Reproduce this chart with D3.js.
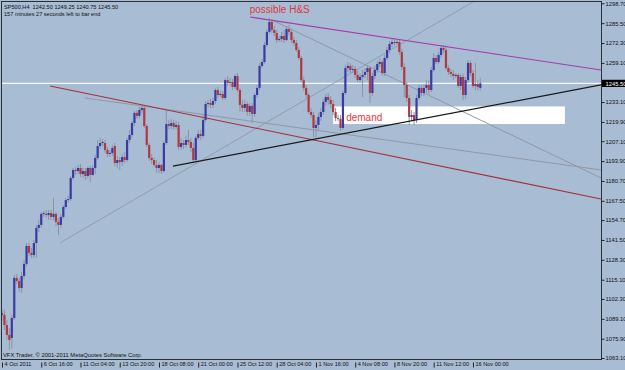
<!DOCTYPE html>
<html><head><meta charset="utf-8">
<script src="https://cdn.jsdelivr.net/npm/d3@7"></script>
<style>html,body{margin:0;padding:0;background:#a8bcd4;} svg{display:block;}</style>
</head><body>
<svg id="c" width="625" height="370"></svg>
<script>
// ---- OHLC data (SP500, H4), one entry per bar ----
const open = [
1093.0,1091.7,1085.0,1078.4,1076.4,1089.7,1116.3,1114.3,1109.6,1117.6,
1125.6,1137.5,1132.9,1131.5,1139.5,1149.5,1151.5,1158.8,1158.8,1158.1,
1159.4,1156.8,1158.8,1153.5,1151.5,1156.8,1163.4,1168.0,1168.7,1182.7,
1188.0,1187.3,1189.3,1185.3,1187.3,1184.0,1189.3,1184.7,1189.3,1196.0,
1203.9,1205.9,1205.9,1201.3,1198.6,1199.3,1203.9,1192.6,1194.6,1193.3,
1196.6,1194.6,1207.9,1211.2,1219.2,1225.9,1223.9,1227.8,1229.2,1217.2,
1204.6,1196.0,1194.6,1191.3,1189.3,1191.3,1187.3,1205.9,1218.5,1217.2,
1219.2,1216.6,1217.9,1203.3,1205.9,1204.6,1207.9,1206.6,1202.6,1194.6,
1209.3,1211.9,1210.6,1221.2,1231.8,1232.5,1231.2,1233.8,1241.1,1237.8,
1238.5,1235.8,1247.7,1245.8,1246.4,1243.1,1250.4,1241.1,1231.2,1229.2,
1231.8,1226.5,1230.5,1225.2,1237.8,1242.5,1257.1,1259.7,1271.0,1279.7,
1286.3,1281.0,1279.0,1274.3,1275.0,1277.0,1274.3,1281.6,1279.7,1274.3,
1272.3,1267.7,1262.4,1247.7,1242.5,1237.8,1226.5,1224.5,1215.9,1217.9,
1223.2,1226.5,1233.2,1236.5,1234.5,1231.8,1226.5,1222.5,1221.9,1215.9,
1239.1,1255.7,1257.1,1254.4,1255.1,1251.1,1247.7,1249.8,1251.1,1253.1,
1255.7,1239.1,1250.4,1254.4,1258.4,1259.7,1252.4,1262.4,1267.7,1271.7,
1273.0,1272.3,1273.0,1266.4,1256.4,1244.4,1235.8,1223.2,1224.5,1221.2,
1235.8,1242.5,1239.1,1242.5,1244.4,1241.1,1254.4,1262.4,1259.7,1264.4,
1269.0,1267.7,1255.7,1253.1,1251.8,1250.4,1251.1,1243.8,1249.8,1237.8,
1247.7,1259.1,1252.4,1243.8,1245.1,1242.50];
const high = [
1096.0,1095.0,1088.4,1083.0,1091.7,1118.3,1118.9,1116.3,1120.3,1128.2,
1139.5,1139.5,1136.2,1141.5,1151.5,1154.8,1160.1,1160.8,1161.4,1161.4,
1161.4,1169.4,1160.1,1156.1,1158.8,1164.7,1169.4,1170.7,1184.0,1189.3,
1190.0,1191.3,1192.0,1189.3,1189.3,1190.6,1190.6,1191.3,1198.0,1207.9,
1209.3,1208.6,1207.9,1203.3,1201.3,1204.6,1205.9,1197.3,1196.6,1198.6,
1200.0,1209.3,1214.6,1220.5,1227.2,1227.8,1229.8,1231.2,1230.5,1218.5,
1205.9,1198.6,1196.6,1194.6,1193.3,1192.0,1207.3,1227.8,1221.2,1221.9,
1221.2,1220.5,1219.9,1209.3,1207.9,1210.6,1214.6,1209.3,1205.9,1210.6,
1214.6,1214.6,1223.9,1233.8,1234.5,1235.2,1235.8,1242.5,1243.1,1240.5,
1240.5,1249.1,1250.4,1249.1,1248.4,1251.8,1252.4,1242.5,1234.5,1234.5,
1233.2,1232.5,1232.5,1239.1,1244.4,1259.1,1261.7,1273.0,1281.6,1289.0,
1288.3,1283.6,1281.0,1277.0,1279.7,1281.0,1283.6,1284.3,1281.6,1276.3,
1274.3,1269.7,1263.7,1249.8,1244.4,1239.1,1229.2,1226.5,1221.2,1225.9,
1229.2,1235.2,1238.5,1239.1,1237.1,1234.5,1229.2,1224.5,1224.5,1240.5,
1257.7,1259.7,1259.1,1257.7,1257.1,1253.8,1252.4,1254.4,1255.7,1257.7,
1257.1,1252.4,1257.1,1260.4,1262.4,1261.0,1264.4,1269.7,1273.7,1275.7,
1275.0,1274.3,1274.3,1268.4,1259.1,1246.4,1237.8,1227.8,1226.5,1237.8,
1244.4,1244.4,1245.1,1247.7,1247.7,1256.4,1265.7,1264.4,1266.4,1271.0,
1271.0,1269.7,1257.7,1255.1,1254.4,1252.4,1252.4,1251.8,1251.8,1249.8,
1261.0,1260.4,1254.4,1259.1,1247.7,1249.25];
const low = [
1088.0,1081.7,1075.1,1068.4,1069.1,1088.4,1112.3,1107.0,1106.3,1115.6,
1124.2,1130.9,1129.6,1129.6,1129.6,1146.8,1149.5,1156.8,1156.1,1154.8,
1154.8,1154.8,1150.8,1144.8,1149.5,1155.5,1162.1,1166.1,1167.4,1181.3,
1184.7,1185.3,1183.3,1182.7,1181.3,1182.7,1180.0,1184.0,1185.3,1194.6,
1201.9,1203.9,1199.3,1196.6,1196.6,1197.3,1190.6,1189.3,1188.0,1190.6,
1192.6,1193.3,1205.9,1209.3,1217.2,1221.9,1222.5,1225.9,1215.9,1203.3,
1194.0,1192.0,1190.0,1186.0,1186.0,1185.3,1186.0,1204.6,1215.2,1215.2,
1214.6,1215.2,1201.3,1201.3,1201.9,1202.6,1204.6,1200.0,1192.6,1193.3,
1207.9,1207.9,1209.3,1219.9,1229.8,1229.2,1229.2,1231.8,1235.8,1236.5,
1234.5,1234.5,1243.8,1243.8,1241.1,1241.8,1239.8,1226.5,1226.5,1226.5,
1223.9,1223.9,1219.2,1223.2,1235.8,1241.1,1255.7,1258.4,1269.7,1278.3,
1279.0,1277.0,1272.3,1273.0,1273.0,1272.3,1273.7,1277.7,1272.3,1270.4,
1266.4,1261.0,1246.4,1240.5,1235.8,1225.2,1222.5,1209.9,1209.3,1214.6,
1220.5,1224.5,1230.5,1231.2,1229.2,1224.5,1220.5,1220.5,1213.9,1214.6,
1237.8,1253.1,1252.4,1252.4,1249.1,1246.4,1245.8,1236.5,1249.1,1247.7,
1232.5,1237.1,1248.4,1252.4,1256.4,1250.4,1250.4,1261.0,1265.7,1269.7,
1270.4,1271.0,1264.4,1254.4,1236.5,1233.2,1217.9,1220.5,1217.9,1219.2,
1234.5,1237.1,1237.1,1239.1,1238.5,1239.8,1253.1,1258.4,1258.4,1262.4,
1265.7,1254.4,1251.1,1249.8,1247.7,1249.1,1242.5,1241.1,1234.5,1235.2,
1245.8,1250.4,1242.5,1241.1,1241.1,1240.75];
const close = [
1091.7,1085.0,1078.4,1075.1,1089.7,1116.3,1114.3,1109.6,1117.6,1125.6,
1137.5,1132.9,1131.5,1139.5,1149.5,1151.5,1158.8,1159.4,1158.1,1159.4,
1156.8,1158.8,1153.5,1151.5,1156.8,1163.4,1168.0,1168.7,1182.7,1188.0,
1187.3,1189.3,1185.3,1187.3,1184.0,1189.3,1184.7,1189.3,1196.0,1203.9,
1205.9,1206.6,1201.3,1198.6,1199.3,1202.6,1192.6,1194.6,1193.3,1196.6,
1194.6,1207.9,1211.2,1219.2,1225.9,1223.9,1227.8,1229.2,1217.2,1204.6,
1196.0,1194.6,1191.3,1189.3,1191.3,1187.3,1205.9,1218.5,1217.2,1219.2,
1216.6,1217.9,1203.3,1205.9,1204.6,1207.9,1206.6,1202.6,1194.6,1209.3,
1211.9,1210.6,1221.2,1231.8,1232.5,1231.2,1233.8,1241.1,1237.8,1238.5,
1235.8,1247.7,1245.8,1246.4,1243.1,1250.4,1241.1,1231.2,1229.2,1231.8,
1226.5,1230.5,1225.2,1237.8,1242.5,1257.1,1259.7,1271.0,1279.7,1286.3,
1281.0,1279.0,1274.3,1275.0,1277.0,1274.3,1281.6,1279.7,1274.3,1272.3,
1267.7,1262.4,1247.7,1242.5,1237.8,1226.5,1224.5,1215.9,1217.9,1223.2,
1226.5,1233.2,1236.5,1234.5,1231.8,1226.5,1222.5,1221.9,1215.9,1239.1,
1255.7,1257.1,1254.4,1255.1,1251.1,1247.7,1249.8,1251.1,1253.1,1255.7,
1239.1,1250.4,1254.4,1258.4,1259.7,1252.4,1262.4,1267.7,1271.7,1273.0,
1272.3,1273.0,1266.4,1256.4,1244.4,1235.8,1223.2,1224.5,1221.2,1235.8,
1242.5,1239.1,1242.5,1244.4,1241.1,1254.4,1262.4,1259.7,1264.4,1269.0,
1267.7,1255.7,1253.1,1251.8,1250.4,1251.1,1243.8,1249.8,1237.8,1247.7,
1259.1,1252.4,1243.8,1245.1,1243.1,1245.50];

// time-axis labels (every 16 bars)
const timeLabelBars = [0,16,32,48,64,80,96,112,128,144,160,176,192];
const timeLabels = ["4 Oct 2011","6 Oct 16:00","11 Oct 04:00","13 Oct 20:00","18 Oct 08:00",
  "21 Oct 00:00","25 Oct 12:00","28 Oct 04:00","1 Nov 16:00","4 Nov 08:00",
  "8 Nov 20:00","11 Nov 12:00","16 Nov 00:00"];
// price-axis labels
const priceTicks = [1298.70,1285.50,1272.30,1259.10,1233.10,1219.90,1207.10,1193.90,1180.70,
  1167.50,1154.70,1141.50,1128.30,1115.10,1102.30,1089.10,1075.90,1063.10];
const lastPrice = 1245.50;

// drawn objects: [barIndex, price] endpoints
const resistanceLine = [[101.1,1289.6],[244.2,1254.4]];   // magenta
const necklineLine   = [[69.7,1190.6],[244.2,1244.5]];    // black
const channelTopLine = [[19.6,1243.8],[244.2,1168.7]];    // dark red
const grayLineA      = [[33.8,1235.8],[244.2,1188.0]];
const grayLineB      = [[110.1,1287.6],[244.2,1182.7]];
const upTrendLine    = [[23.6,1139.5],[192.0,1299.6]];
const demandZone     = {from:[135,1230.2], to:[229.5,1218.5]};

const header1 = "SP500,H4  1242.50 1249.25 1240.75 1245.50";
const header2 = "157 minutes 27 seconds left to bar end";
const footer = "VFX Trader, \u00A9 2001-2011 MetaQuotes Software Corp.";

// ---- drawing ----
const svg = d3.select("#c");
const P = {left:2, right:601, top:2, bottom:359};
const x = d3.scaleLinear().domain([0,195]).range([2,480.3]);
const y = d3.scaleLinear().domain([1063.1,1298.7]).range([358,3.3]);
const font = "'Liberation Sans', Arial, sans-serif";

svg.append("rect").attr("width",625).attr("height",370).attr("fill","#a8bcd4");
svg.append("clipPath").attr("id","clip").append("rect")
  .attr("x",P.left).attr("y",P.top).attr("width",P.right-P.left).attr("height",P.bottom-P.top);
const g = svg.append("g").attr("clip-path","url(#clip)");

// demand zone
g.append("rect")
  .attr("x", x(demandZone.from[0])).attr("y", y(demandZone.from[1]))
  .attr("width", x(demandZone.to[0]) - x(demandZone.from[0]))
  .attr("height", y(demandZone.to[1]) - y(demandZone.from[1]))
  .attr("fill","#ffffff");

// current price line
g.append("line").attr("x1",P.left).attr("x2",P.right)
  .attr("y1",y(lastPrice)).attr("y2",y(lastPrice))
  .attr("stroke","#f4f6fa").attr("stroke-width",1.2);

// trend lines (drawn under candles)
function tl(pts, color, w){
  g.append("line")
    .attr("x1",x(pts[0][0])).attr("y1",y(pts[0][1]))
    .attr("x2",x(pts[1][0])).attr("y2",y(pts[1][1]))
    .attr("stroke",color).attr("stroke-width",w);
}
tl(upTrendLine, "#8e98a6", 0.9);
tl(grayLineA, "#8c94a0", 0.9);
tl(grayLineB, "#8c94a0", 0.9);

// candles
const bars = d3.range(open.length);
const cg = g.append("g");
cg.selectAll("line.wick").data(bars).join("line").attr("class","wick")
  .attr("x1",i=>x(i)).attr("x2",i=>x(i))
  .attr("y1",i=>y(high[i])).attr("y2",i=>y(low[i]))
  .attr("stroke","#8a95a3").attr("stroke-width",1);
cg.selectAll("rect.body").data(bars).join("rect").attr("class","body")
  .attr("x",i=>x(i)-1.1).attr("width",2.2)
  .attr("y",i=>y(Math.max(open[i],close[i])))
  .attr("height",i=>Math.max(0.8, Math.abs(y(open[i])-y(close[i]))))
  .attr("fill",i=>close[i]>=open[i] ? "#3a3aa6" : "#b0383f");

tl(channelTopLine, "#a3323c", 1.1);
tl(resistanceLine, "#a43ca8", 1.1);
tl(necklineLine, "#1a1a1a", 1.2);

// annotations
g.append("text").attr("x", x(101)).attr("y", 13).text("possible H&S")
  .attr("font-family",font).attr("font-size",10).attr("fill","#e0393c");
g.append("text").attr("x", x(140.3)).attr("y", y(1220.6)).text("demand")
  .attr("font-family",font).attr("font-size",10).attr("fill","#e8393c");

// header / footer
svg.append("text").attr("x",4).attr("y",8.5).text(header1)
  .attr("font-family",font).attr("font-size",5.6).attr("fill","#111").attr("xml:space","preserve");
svg.append("text").attr("x",4).attr("y",15.5).text(header2)
  .attr("font-family",font).attr("font-size",5.6).attr("fill","#111");
svg.append("text").attr("x",3).attr("y",357).text(footer)
  .attr("font-family",font).attr("font-size",5.8).attr("fill","#111");

// frame
svg.append("rect").attr("x",P.left-0.5).attr("y",P.top-0.5)
  .attr("width",P.right-P.left+1).attr("height",P.bottom-P.top+1)
  .attr("fill","none").attr("stroke","#2a2f38").attr("stroke-width",1);

// price axis
const ya = svg.append("g").attr("transform",`translate(${P.right+0.5},0)`)
  .call(d3.axisRight(y).tickValues(priceTicks).tickSize(3).tickPadding(1).tickFormat(d3.format(".2f")));
ya.select(".domain").remove();
ya.selectAll("line").attr("stroke","#222");
ya.selectAll("text").attr("font-family",font).attr("font-size",5.8).attr("fill","#111");
// last price marker
const lp = svg.append("g").attr("transform",`translate(${P.right+1},${y(lastPrice)})`);
lp.append("rect").attr("x",0).attr("y",-3.6).attr("width",24).attr("height",7.2).attr("fill","#000");
lp.append("text").attr("x",3.5).attr("y",2.1).text(d3.format(".2f")(lastPrice))
  .attr("font-family",font).attr("font-size",5.8).attr("fill","#fff");

// time axis
const xa = svg.append("g").attr("transform",`translate(0,${P.bottom+0.5})`)
  .call(d3.axisBottom(x).tickValues(timeLabelBars).tickSize(4).tickFormat((d,i)=>timeLabels[i]));
xa.select(".domain").remove();
xa.selectAll("line").attr("stroke","#222").attr("y1",3).attr("y2",8);
xa.selectAll("text").attr("text-anchor","start").attr("dx",2).attr("y",2.5).attr("dy","0.71em")
  .attr("font-family",font).attr("font-size",5.6).attr("fill","#111");
</script>
</body></html>
